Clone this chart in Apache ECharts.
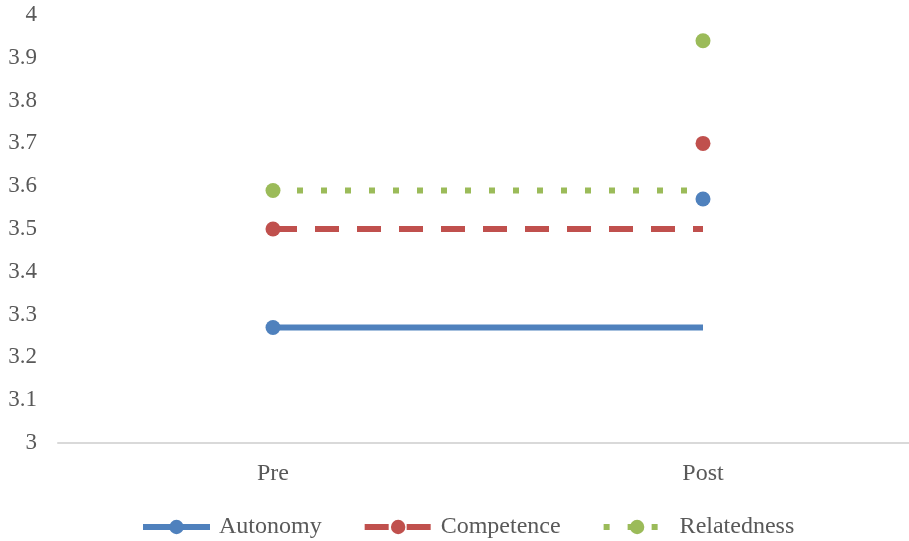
<!DOCTYPE html>
<html>
<head>
<meta charset="utf-8">
<script src="https://cdn.jsdelivr.net/npm/echarts@6/dist/echarts.min.js"></script>
<style>
  html, body { margin: 0; padding: 0; background: #fff; }
  #chart { width: 909px; height: 541px; }
</style>
</head>
<body>
<div id="chart"></div>
<script>
// Mean need-satisfaction scores before and after
const categories = ['Pre', 'Post'];
const seriesNames = ['Autonomy', 'Competence', 'Relatedness'];
const preValues = [3.27, 3.50, 3.59];
const postValues = [3.57, 3.70, 3.94];
const yTicks = { min: 3, max: 4, interval: 0.1 };

const colors = ['#4F81BD', '#C0504D', '#9BBB59'];
const lineTypes = ['solid', [24, 18], [6, 18]];
const FONT = '"Liberation Serif", "Times New Roman", serif';

const series = [];
seriesNames.forEach((name, i) => {
  // Baseline level carried across from Pre, marker only at Pre
  series.push({
    name: name,
    type: 'line',
    data: [preValues[i], { value: preValues[i], symbol: 'none' }],
    symbol: 'circle',
    symbolSize: 15,
    showAllSymbol: true,
    lineStyle: { color: colors[i], width: 6, type: lineTypes[i], cap: 'butt' },
    itemStyle: { color: colors[i], opacity: 1 },
    emphasis: { disabled: true },
    z: 2
  });
});
seriesNames.forEach((name, i) => {
  // Post score marker
  series.push({
    name: name,
    type: 'scatter',
    data: [null, postValues[i]],
    symbol: 'circle',
    symbolSize: 15,
    itemStyle: { color: colors[i], opacity: 1 },
    emphasis: { disabled: true },
    z: 3
  });
});

const chart = echarts.init(document.getElementById('chart'), null, { renderer: 'canvas' });
chart.setOption({
  animation: false,
  backgroundColor: '#ffffff',
  grid: { left: 58, width: 860, top: 15, height: 428, containLabel: false, outerBoundsMode: 'none' },
  xAxis: {
    type: 'category',
    data: categories,
    boundaryGap: true,
    axisLine: { show: true, lineStyle: { color: '#D9D9D9', width: 2 } },
    axisTick: { show: false },
    axisLabel: { color: '#595959', fontFamily: FONT, fontSize: 24, margin: 19 },
    splitLine: { show: false }
  },
  yAxis: {
    type: 'value',
    min: yTicks.min,
    max: yTicks.max,
    interval: yTicks.interval,
    axisLine: { show: false },
    axisTick: { show: false },
    splitLine: { show: false },
    axisLabel: {
      color: '#595959', fontFamily: FONT, fontSize: 23, margin: 21,
      formatter: v => String(Math.round(v * 10) / 10)
    }
  },
  legend: {
    data: seriesNames,
    left: 135,
    top: 510,
    itemWidth: 67,
    itemHeight: 18,
    itemGap: 40,
    lineStyle: { width: 6 },
    textStyle: { color: '#595959', fontFamily: FONT, fontSize: 24, padding: [0, 0, 0, 4] }
  },
  series: series
});
</script>
</body>
</html>
